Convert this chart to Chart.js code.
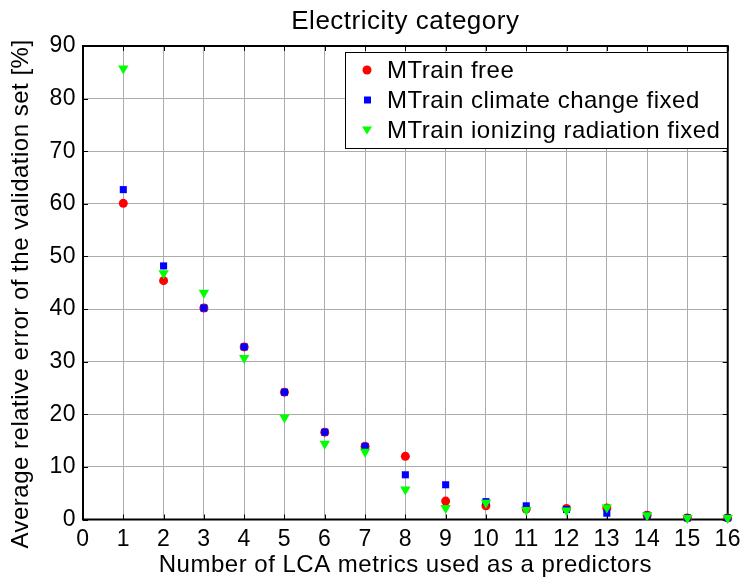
<!DOCTYPE html>
<html>
<head>
<meta charset="utf-8">
<script src="https://cdn.jsdelivr.net/npm/chart.js@4"></script>
<style>
  html, body { margin: 0; padding: 0; background: #fff; }
  #wrap { width: 747px; height: 579px; }
</style>
</head>
<body>
<div id="wrap"><canvas id="errChart" width="747" height="579"></canvas></div>
<script>
// Number of predictors on the x axis
const predictors = [1, 2, 3, 4, 5, 6, 7, 8, 9, 10, 11, 12, 13, 14, 15, 16];

// Average relative error [%] for each training variant
const mtrainFree = [60.1, 45.4, 40.2, 32.8, 24.2, 16.6, 13.9, 12.0, 3.5, 2.6, 2.0, 2.1, 2.2, 0.8, 0.3, 0.3];
const climateFixed = [62.7, 48.2, 40.2, 32.8, 24.2, 16.6, 13.9, 8.5, 6.6, 3.4, 2.6, 1.9, 1.2, 0.8, 0.3, 0.3];
const ionizingFixed = [85.7, 46.8, 43.1, 30.7, 19.4, 14.4, 12.9, 5.7, 2.2, 3.2, 1.8, 1.7, 2.3, 0.8, 0.3, 0.3];

const seriesLabels = ['MTrain free', 'MTrain climate change fixed', 'MTrain ionizing radiation fixed'];
const chartTitle = 'Electricity category';
const xTitle = 'Number of LCA metrics used as a predictors';
const yTitle = 'Average relative error of the validation set [%]';

const FONT = '"Liberation Sans", Arial, sans-serif';
const SPACING = '0.5px';

function toPoints(values) {
  return values.map((v, i) => ({ x: predictors[i], y: v }));
}

// slightly wider text, closer to the old matlab rendering
const spacingPlugin = {
  id: 'spacing',
  beforeUpdate(chart) { chart.ctx.letterSpacing = SPACING; },
  beforeDraw(chart) { chart.ctx.letterSpacing = SPACING; }
};

// Box around the plot, inward ticks, titles and legend (matlab style)
const framePlugin = {
  id: 'frame',
  beforeDatasetsDraw(chart) {
    const { ctx, chartArea: a, scales } = chart;
    ctx.save();
    ctx.strokeStyle = '#000';
    ctx.lineWidth = 1;
    const tl = 5;
    ctx.beginPath();
    scales.x.ticks.forEach(t => {
      const px = Math.round(scales.x.getPixelForValue(t.value)) + 0.5;
      ctx.moveTo(px, a.bottom); ctx.lineTo(px, a.bottom - tl);
      ctx.moveTo(px, a.top); ctx.lineTo(px, a.top + tl);
    });
    scales.y.ticks.forEach(t => {
      const py = Math.round(scales.y.getPixelForValue(t.value)) + 0.5;
      ctx.moveTo(a.left, py); ctx.lineTo(a.left + tl, py);
      ctx.moveTo(a.right, py); ctx.lineTo(a.right - tl, py);
    });
    ctx.stroke();

    ctx.lineWidth = 2;
    ctx.strokeRect(a.left, a.top, a.right - a.left, a.bottom - a.top);
    ctx.restore();
  },
  afterDraw(chart) {
    const { ctx, chartArea: a } = chart;
    ctx.save();
    ctx.fillStyle = '#000';
    ctx.textAlign = 'center';
    ctx.textBaseline = 'middle';

    // chart title
    ctx.font = '26px ' + FONT;
    ctx.fillText(chartTitle, (a.left + a.right) / 2, 22);

    // axis titles
    ctx.font = '24px ' + FONT;
    ctx.fillText(xTitle, (a.left + a.right) / 2, 565);
    ctx.save();
    ctx.translate(21, 294);
    ctx.rotate(-Math.PI / 2);
    ctx.fillText(yTitle, 0, 0);
    ctx.restore();

    // legend box
    const lx = 345, ly = 52, lw = 382, lh = 96;
    ctx.fillStyle = '#fff';
    ctx.fillRect(lx, ly, lw, lh);
    ctx.lineWidth = 1;
    ctx.strokeStyle = '#000';
    ctx.strokeRect(lx + 0.5, ly + 0.5, lw, lh);
    ctx.font = '24px ' + FONT;
    ctx.textAlign = 'left';
    chart.data.datasets.forEach((ds, i) => {
      const cy = 70 + i * 30;
      const style = ds.pointStyle;
      ctx.fillStyle = ds.backgroundColor;
      ctx.beginPath();
      if (style === 'circle') {
        ctx.arc(367, cy, 4.5, 0, Math.PI * 2);
      } else if (style === 'rect') {
        ctx.rect(364, cy - 3.5, 7, 7);
      } else {
        ctx.moveTo(362, cy - 3.5); ctx.lineTo(372, cy - 3.5); ctx.lineTo(367, cy + 4.5);
        ctx.closePath();
      }
      ctx.fill();
      ctx.fillStyle = '#000';
      ctx.fillText(ds.label, 387, cy + 1);
    });
    ctx.restore();
  }
};

new Chart(document.getElementById('errChart'), {
  type: 'scatter',
  data: {
    datasets: [
      {
        label: seriesLabels[0],
        data: toPoints(mtrainFree),
        pointStyle: 'circle',
        radius: 4.5,
        backgroundColor: '#ff0000',
        borderWidth: 0,
        clip: false,
        order: 3
      },
      {
        label: seriesLabels[1],
        data: toPoints(climateFixed),
        pointStyle: 'rect',
        radius: 5,
        backgroundColor: '#0000ff',
        borderWidth: 0,
        clip: false,
        order: 2
      },
      {
        label: seriesLabels[2],
        data: toPoints(ionizingFixed),
        pointStyle: 'triangle',
        rotation: 180,
        radius: 6,
        backgroundColor: '#00ff00',
        borderWidth: 0,
        clip: false,
        order: 1
      }
    ]
  },
  options: {
    responsive: false,
    animation: false,
    devicePixelRatio: 1,
    layout: { padding: { top: 46, right: 17, left: 0, bottom: 0 } },
    plugins: {
      legend: { display: false },
      title: { display: false },
      tooltip: { enabled: false }
    },
    scales: {
      x: {
        type: 'linear',
        min: 0,
        max: 16,
        afterFit(scale) { scale.height = 59.5; },
        ticks: {
          stepSize: 1,
          color: '#000',
          padding: 6,
          font: { family: FONT, size: 23 }
        },
        grid: { color: '#acacac', lineWidth: 1, drawTicks: false },
        border: { display: false }
      },
      y: {
        min: 0,
        max: 90,
        afterFit(scale) { scale.width = 83; },
        ticks: {
          stepSize: 10,
          color: '#000',
          padding: 7,
          font: { family: FONT, size: 23 }
        },
        grid: { color: '#acacac', lineWidth: 1, drawTicks: false },
        border: { display: false }
      }
    }
  },
  plugins: [spacingPlugin, framePlugin]
});
</script>
</body>
</html>
